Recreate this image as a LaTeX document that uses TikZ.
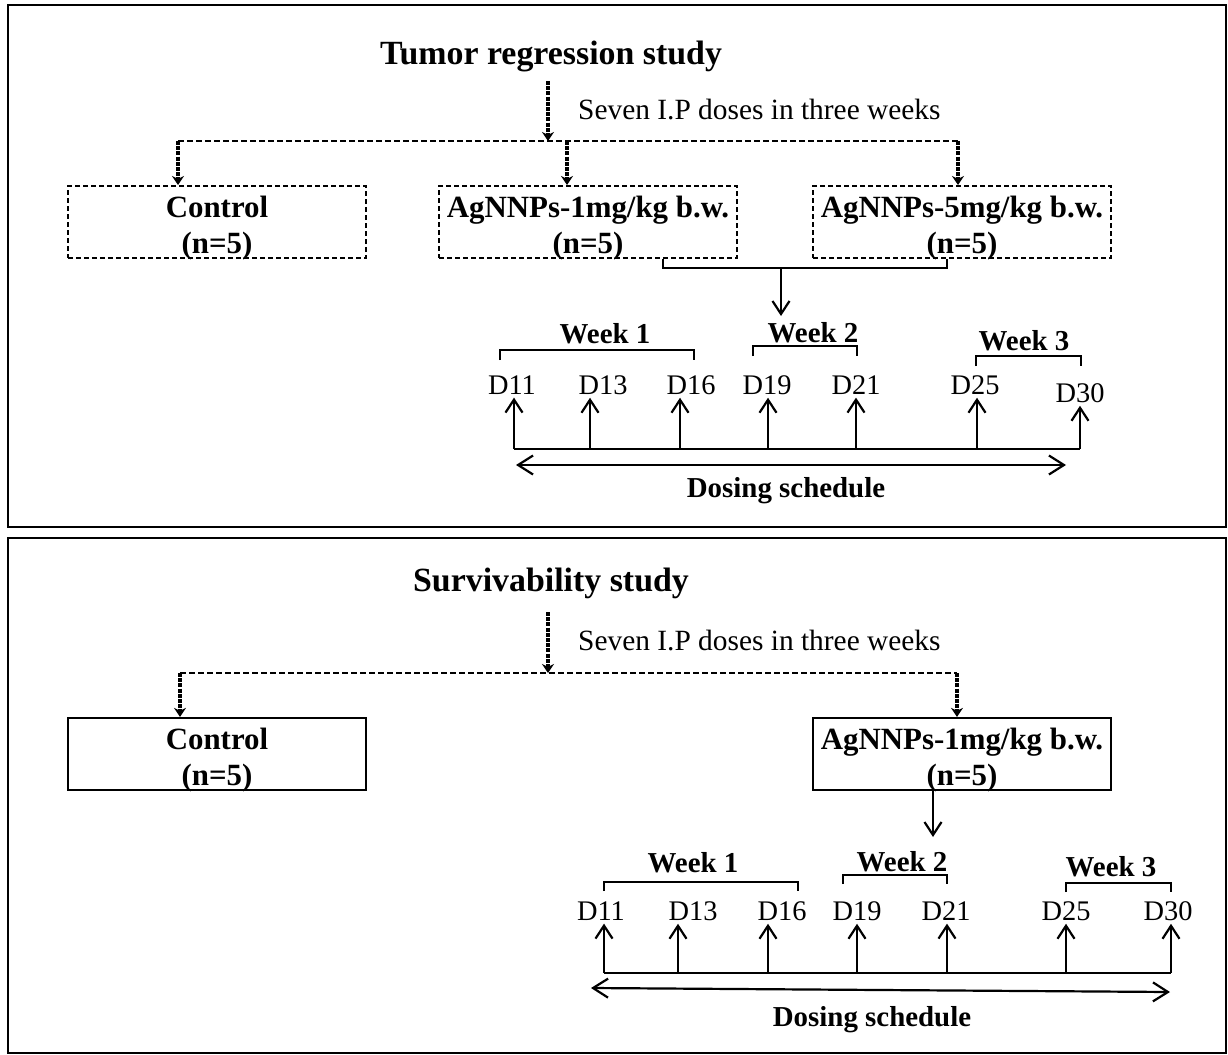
\documentclass[tikz,border=0pt]{standalone}
\usepackage{fontspec}
\setmainfont{Liberation Serif}
\usepackage{tikz}
\usetikzlibrary{arrows.meta}
\usetikzlibrary{positioning}
\newcommand{\boxstrut}{\rule{0pt}{33bp}}
\tikzset{
	panelframe/.style={draw=black, line width=2.4bp},
	groupbox/.style={rectangle, draw=black, minimum width=298bp, minimum height=72bp, align=center, inner xsep=0pt, inner ysep=-4bp, font=\fontsize{31}{36}\selectfont\bfseries},
	dashedbox/.style={groupbox, line width=2bp, dash pattern=on 5bp off 3bp},
	solidbox/.style={groupbox, line width=2.2bp},
	titlenode/.style={font=\fontsize{34}{40}\selectfont\bfseries},
	dosenote/.style={anchor=west, inner sep=0pt, font=\fontsize{29.5}{34}\selectfont},
	daynode/.style={inner xsep=0pt, inner ysep=3bp, font=\fontsize{28.5}{32}\selectfont},
	weeknode/.style={inner sep=0pt, font=\fontsize{29}{34}\selectfont\bfseries},
	splitline/.style={line width=2bp, dash pattern=on 6bp off 3bp},
	splitarrow/.style={line width=3.4bp, dash pattern=on 4bp off 1.2bp, -{Stealth[length=9bp,width=12bp]}},
	dayarrow/.style={line width=2.2bp, -{Straight Barb[length=13bp,width=17bp]}},
	schedarrow/.style={line width=2.2bp, {Straight Barb[length=15bp,width=19bp]}-{Straight Barb[length=15bp,width=19bp]}},
	weekbrace/.style={line width=2.2bp}
}

\begin{document}
\begin{tikzpicture}[x=1bp, y=-1bp]
	\useasboundingbox (0,0) rectangle (1228,1055);
	\draw[panelframe] (8,5) rectangle (1226,527);
	\draw[panelframe] (8,538) rectangle (1226,1053);

	% tumor regression study
	\node[titlenode] at (551,56) (t1) {Tumor regression study};
	\coordinate (s1) at (548,81);
	\coordinate (sp1) at (548,141);
	\draw[splitarrow] (s1) -- (sp1);
	\node[dosenote] at (578,110) (note1) {Seven I.P doses in three weeks};

	\node[dashedbox] at (217,222) (ctrl1) {\boxstrut Control\\(n=5)};
	\node[dashedbox] at (588,222) (low1) {\boxstrut AgNNPs-1mg/kg b.w.\\(n=5)};
	\node[dashedbox] at (962,222) (high1) {\boxstrut AgNNPs-5mg/kg b.w.\\(n=5)};

	\coordinate (hl1) at (178,141);
	\coordinate (hm1) at (567,141);
	\coordinate (hr1) at (958,141);
	\draw[splitline] (hl1) -- (hr1);
	\draw[splitarrow] (hl1) -- (hl1 |- ctrl1.north);
	\draw[splitarrow] (hm1) -- (hm1 |- low1.north);
	\draw[splitarrow] (hr1) -- (hr1 |- high1.north);

	\coordinate (jl1) at (663,268);
	\coordinate (jr1) at (947,268);
	\coordinate (jm1) at (781,268);
	\coordinate (jd1) at (781,316);
	\draw[weekbrace] (jl1 |- low1.south) -- (jl1) -- (jr1) -- (jr1 |- high1.south);
	\draw[dayarrow] (jm1) -- (jd1);

	\node[weeknode] at (605,334) (wk11) {Week 1};
	\node[weeknode] at (813,333) (wk12) {Week 2};
	\node[weeknode] at (1024,341) (wk13) {Week 3};
	\draw[weekbrace] (500,360) -- (500,350) -- (694,350) -- (694,360);
	\draw[weekbrace] (753,356) -- (753,346) -- (857,346) -- (857,356);
	\draw[weekbrace] (976,366) -- (976,356) -- (1081,356) -- (1081,366);

	\node[daynode] at (512,385) (d11a) {D11};
	\node[daynode] at (603,385) (d13a) {D13};
	\node[daynode] at (691,385) (d16a) {D16};
	\node[daynode] at (767,385) (d19a) {D19};
	\node[daynode] at (856,385) (d21a) {D21};
	\node[daynode] at (975,385) (d25a) {D25};
	\node[daynode] at (1080,393) (d30a) {D30};

	\coordinate (b11a) at (514,449);
	\coordinate (b13a) at (590,449);
	\coordinate (b16a) at (680,449);
	\coordinate (b19a) at (768,449);
	\coordinate (b21a) at (856,449);
	\coordinate (b25a) at (977,449);
	\coordinate (b30a) at (1080,449);
	\draw[weekbrace] (b11a) -- (b30a);
	\draw[dayarrow] (b11a) -- (b11a |- d11a.south);
	\draw[dayarrow] (b13a) -- (b13a |- d13a.south);
	\draw[dayarrow] (b16a) -- (b16a |- d16a.south);
	\draw[dayarrow] (b19a) -- (b19a |- d19a.south);
	\draw[dayarrow] (b21a) -- (b21a |- d21a.south);
	\draw[dayarrow] (b25a) -- (b25a |- d25a.south);
	\draw[dayarrow] (b30a) -- (b30a |- d30a.south);

	\coordinate (e1a) at (516,465);
	\coordinate (e2a) at (1066,465);
	\draw[schedarrow] (e1a) -- (e2a);
	\node[weeknode] at (786,491) (dose1) {Dosing schedule};

	% survivability study
	\node[titlenode] at (551,583) (t2) {Survivability study};
	\coordinate (s2) at (548,612);
	\coordinate (sp2) at (548,673);
	\draw[splitarrow] (s2) -- (sp2);
	\node[dosenote] at (578,641) (note2) {Seven I.P doses in three weeks};

	\node[solidbox] at (217,754) (ctrl2) {\boxstrut Control\\(n=5)};
	\node[solidbox] at (962,754) (low2) {\boxstrut AgNNPs-1mg/kg b.w.\\(n=5)};

	\coordinate (hl2) at (180,673);
	\coordinate (hr2) at (957,673);
	\draw[splitline] (hl2) -- (hr2);
	\draw[splitarrow] (hl2) -- (hl2 |- ctrl2.north);
	\draw[splitarrow] (hr2) -- (hr2 |- low2.north);

	\coordinate (jd2) at (933,837);
	\draw[dayarrow] (low2.south -| jd2) -- (jd2);

	\node[weeknode] at (693,863) (wk21) {Week 1};
	\node[weeknode] at (902,862) (wk22) {Week 2};
	\node[weeknode] at (1111,867) (wk23) {Week 3};
	\draw[weekbrace] (604,891) -- (604,882) -- (798,882) -- (798,891);
	\draw[weekbrace] (843,884) -- (843,875) -- (947,875) -- (947,884);
	\draw[weekbrace] (1066,892) -- (1066,883) -- (1171,883) -- (1171,892);

	\node[daynode] at (601,911) (d11b) {D11};
	\node[daynode] at (693,911) (d13b) {D13};
	\node[daynode] at (782,911) (d16b) {D16};
	\node[daynode] at (857,911) (d19b) {D19};
	\node[daynode] at (946,911) (d21b) {D21};
	\node[daynode] at (1066,911) (d25b) {D25};
	\node[daynode] at (1168,911) (d30b) {D30};

	\coordinate (b11b) at (604,973);
	\coordinate (b13b) at (678,973);
	\coordinate (b16b) at (768,973);
	\coordinate (b19b) at (857,973);
	\coordinate (b21b) at (947,973);
	\coordinate (b25b) at (1066,973);
	\coordinate (b30b) at (1171,973);
	\draw[weekbrace] (b11b) -- (b30b);
	\draw[dayarrow] (b11b) -- (b11b |- d11b.south);
	\draw[dayarrow] (b13b) -- (b13b |- d13b.south);
	\draw[dayarrow] (b16b) -- (b16b |- d16b.south);
	\draw[dayarrow] (b19b) -- (b19b |- d19b.south);
	\draw[dayarrow] (b21b) -- (b21b |- d21b.south);
	\draw[dayarrow] (b25b) -- (b25b |- d25b.south);
	\draw[dayarrow] (b30b) -- (b30b |- d30b.south);

	\coordinate (e1b) at (591,988);
	\coordinate (e2b) at (1170,992);
	\draw[schedarrow] (e1b) -- (e2b);
	\node[weeknode] at (872,1020) (dose2) {Dosing schedule};
\end{tikzpicture}
\end{document}
